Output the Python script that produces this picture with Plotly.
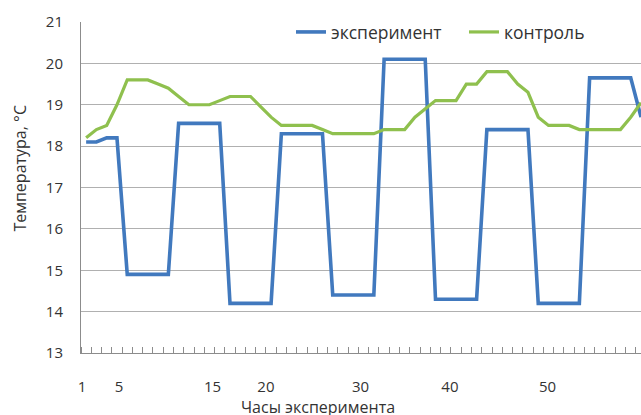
import plotly.graph_objects as go

hours = list(range(1, 56))
experiment = [18.1, 18.1, 18.2, 18.2,
              14.9, 14.9, 14.9, 14.9, 14.9,
              18.55, 18.55, 18.55, 18.55, 18.55,
              14.2, 14.2, 14.2, 14.2, 14.2,
              18.3, 18.3, 18.3, 18.3, 18.3,
              14.4, 14.4, 14.4, 14.4, 14.4,
              20.1, 20.1, 20.1, 20.1, 20.1,
              14.3, 14.3, 14.3, 14.3, 14.3,
              18.4, 18.4, 18.4, 18.4, 18.4,
              14.2, 14.2, 14.2, 14.2, 14.2,
              19.65, 19.65, 19.65, 19.65, 19.65,
              18.7]
control = [18.2, 18.4, 18.5, 19.0, 19.6, 19.6, 19.6, 19.5, 19.4, 19.2,
           19.0, 19.0, 19.0, 19.1, 19.2, 19.2, 19.2, 18.95, 18.7, 18.5,
           18.5, 18.5, 18.5, 18.4, 18.3, 18.3, 18.3, 18.3, 18.3, 18.4,
           18.4, 18.4, 18.7, 18.9, 19.1, 19.1, 19.1, 19.5, 19.5, 19.8,
           19.8, 19.8, 19.5, 19.3, 18.7, 18.5, 18.5, 18.5, 18.4, 18.4,
           18.4, 18.4, 18.4, 18.7, 19.05]

tick_labels = ["1", "5", "15", "20", "30", "40", "50"]
tick_pos = [0.6, 4.2, 13.3, 18.5, 27.7, 36.4, 45.9]

y_ticks = [13, 14, 15, 16, 17, 18, 19, 20, 21]

FONT = "Open Sans"
TXT = "#333333"
GRID = "#b0b0b0"
AXIS = "#8c8c8c"

fig = go.Figure()
fig.add_trace(go.Scatter(x=hours, y=experiment, mode="lines", name="эксперимент",
                         line=dict(color="#4179be", width=3.6)))
fig.add_trace(go.Scatter(x=hours, y=control, mode="lines", name="контроль",
                         line=dict(color="#8fc04e", width=3.2)))

fig.update_layout(
    width=641, height=415,
    margin=dict(l=81, r=0, t=22, b=62),
    plot_bgcolor="white", paper_bgcolor="white",
    font=dict(family=FONT, size=15, color=TXT),
    showlegend=True,
    legend=dict(orientation="h", x=0.375, y=1.024, xanchor="left", yanchor="top",
                bgcolor="rgba(0,0,0,0)", font=dict(size=17.5, family=FONT, color=TXT),
                itemwidth=30, tracegroupgap=0,
                entrywidth=128, entrywidthmode="pixels"),
    xaxis=dict(range=[0.5, 55.0], tickmode="array", tickvals=tick_pos, ticktext=tick_labels,
               ticks="", showgrid=False, zeroline=False, automargin=False,
               showline=True, linecolor=AXIS, linewidth=1,
               ticklabelstandoff=20,
               tickfont=dict(size=15, family=FONT, color=TXT),
               minor=dict(ticks="inside", tickmode="linear", tick0=0.5, dtick=1,
                          ticklen=6, tickcolor=AXIS, tickwidth=1, showgrid=False)),
    yaxis=dict(range=[13, 21], tickmode="array", tickvals=y_ticks,
               ticks="", showgrid=True, gridcolor=GRID, gridwidth=1, zeroline=False,
               automargin=False,
               showline=True, linecolor=AXIS, linewidth=1,
               ticklabelstandoff=14,
               tickfont=dict(size=15, family=FONT, color=TXT)),
    annotations=[
        dict(text="Температура, °C", textangle=-90, xref="paper", yref="paper",
             x=-0.109, y=0.56, xanchor="center", yanchor="middle", showarrow=False,
             font=dict(size=16, family=FONT, color=TXT)),
        dict(text="Часы эксперимента", xref="paper", yref="paper",
             x=0.423, y=-0.124, xanchor="center", yanchor="top", showarrow=False,
             font=dict(size=16, family=FONT, color=TXT)),
    ],
)

fig.write_html("out.html", config={"displayModeBar": False},
               post_script="document.body.style.margin='0';document.body.style.padding='0';"
                           "document.documentElement.style.overflow='hidden';")
